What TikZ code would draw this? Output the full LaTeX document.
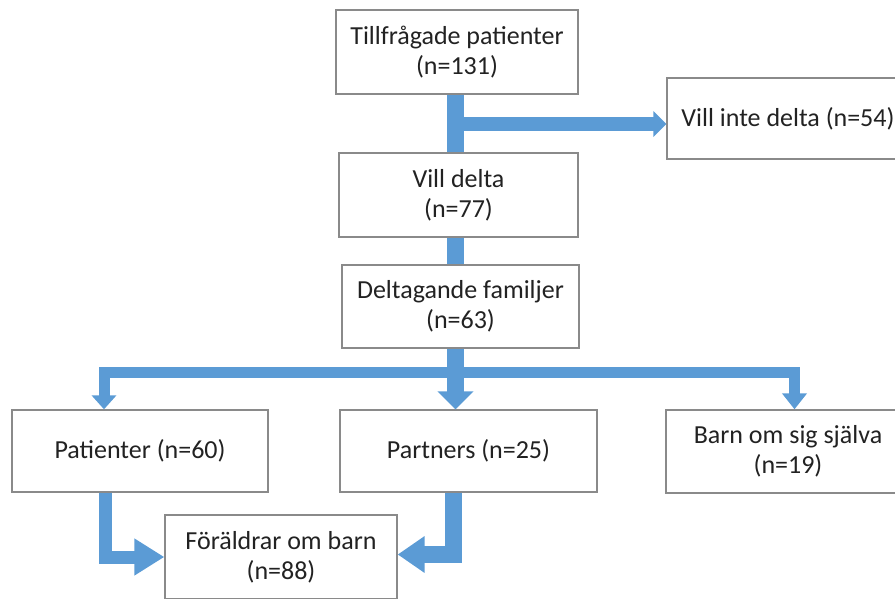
\documentclass[tikz,border=0pt]{standalone}
\usepackage{fontspec}
\setmainfont{Carlito}
\usetikzlibrary{arrows.meta, positioning, calc}

\definecolor{flowblue}{HTML}{5B9BD5}
\definecolor{boxgray}{HTML}{8A8A8A}
\definecolor{txtgray}{HTML}{222222}

\tikzset{
  stagebox/.style={draw=boxgray, line width=1.3pt, fill=white, align=center,
    text=txtgray, inner sep=0pt, font=\fontsize{26}{30}\selectfont},
  flow/.style={draw=flowblue, line width=#1, line join=miter},
  flow/.default=17pt
}

\begin{document}
\begin{tikzpicture}[x=1pt, y=-1pt]
  \useasboundingbox (0,0) rectangle (895,598);
  \clip (0,0) rectangle (895,598);

  % Boxes
  \node[stagebox, minimum width=242pt, minimum height=84pt] (asked) at (457,52) {Tillfrågade patienter\\(n=131)};
  \node[stagebox, minimum width=239pt, minimum height=84pt] (yes) at (458.5,195) {Vill delta\\(n=77)};
  \node[stagebox, minimum width=242pt, minimum height=81pt] (no) at (788,118.5) {Vill inte delta (n=54)};
  \node[stagebox, minimum width=237pt, minimum height=83pt] (families) at (460.5,306.5) {Deltagande familjer\\(n=63)};
  \node[stagebox, minimum width=256pt, minimum height=82pt] (patients) at (140,451) {Patienter (n=60)};
  \node[stagebox, minimum width=257pt, minimum height=82pt] (partners) at (468.5,451) {Partners (n=25)};
  \node[stagebox, minimum width=244pt, minimum height=83pt] (children) at (788,451.5) {Barn om sig själva\\(n=19)};
  \node[stagebox, minimum width=232pt, minimum height=84pt] (parents) at (281,557) {Föräldrar om barn\\(n=88)};

  % Split points
  \coordinate (split1) at ([xshift=-1.5pt]asked.south |- 0,124);
  \coordinate (split2) at ([xshift=-5pt]families.south |- 0,372);

  % Upper trunk and drop-out branch
  \draw[flow] ([xshift=-1.5pt]asked.south) -- ([xshift=-1.5pt]asked.south |- yes.north);
  \draw[flow=14pt, -{Triangle[length=13pt, width=25pt]}] (split1) -- (split1 -| no.west);
  \draw[flow] (split1 |- yes.south) -- (split1 |- families.north);

  % Lower trunk and branches
  \draw[flow, -{Triangle[length=18pt, width=35pt]}] (split2 |- families.south) -- (split2 |- partners.north);
  \draw[flow=11pt, -{Triangle[length=14pt, width=24pt]}] (split2) -| ([xshift=-36pt]patients.north);
  \draw[flow=11pt, -{Triangle[length=16pt, width=24pt]}] (split2) -| ([xshift=6.5pt]children.north);

  % Merge into parents
  \draw[flow=13pt, -{Triangle[length=30pt, width=35pt]}] ([xshift=-34.5pt]patients.south) |- (parents.west);
  \draw[flow, -{Triangle[length=27pt, width=35pt]}] ([xshift=-15pt]partners.south) |- ([yshift=2.5pt]parents.east);
\end{tikzpicture}
\end{document}
